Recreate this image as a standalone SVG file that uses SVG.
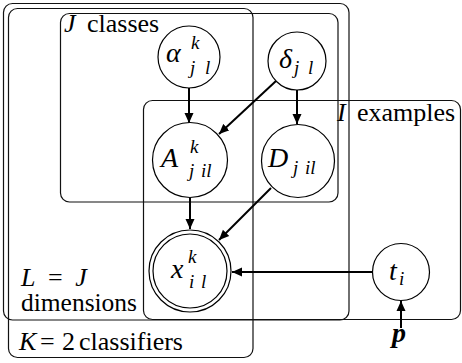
<svg xmlns="http://www.w3.org/2000/svg" width="462" height="363" viewBox="0 0 462 363">
<defs>
<style>
.plate{fill:none;stroke:#111;stroke-width:1.2}
.node{fill:#fff;stroke:#000;stroke-width:1.2}
.edge{stroke:#000;stroke-width:2;fill:none}
.lbl{font-size:26px}
.big{font-size:28px;font-style:italic}
.sub{font-size:19px;font-style:italic}
.it{font-style:italic}
</style>
<marker id="ah" viewBox="0 0 10 10" refX="10" refY="5" markerWidth="10" markerHeight="10" markerUnits="userSpaceOnUse" orient="auto">
<path d="M0,0.5 L10,5 L0,9.5 Z" fill="#000"/>
</marker>
</defs>
<rect width="462" height="363" fill="#fff"/>
<g id="plates">
<g id="plate-L"><rect class="plate" x="3.5" y="3.5" width="345.5" height="316.5" rx="9"/>
<text class="lbl" font-family="Liberation Serif" x="21" y="286" word-spacing="6"><tspan class="it">L</tspan> = <tspan class="it">J</tspan></text>
<text class="lbl" font-family="Liberation Serif" x="21" y="311" textLength="116" lengthAdjust="spacingAndGlyphs">dimensions</text></g>
<g id="plate-K"><rect class="plate" x="8.5" y="8.5" width="244.5" height="349" rx="9"/>
<text class="lbl" font-family="Liberation Serif" x="19" y="350"><tspan class="it">K</tspan><tspan x="40">=</tspan><tspan x="62">2</tspan><tspan x="79">classifiers</tspan></text></g>
<g id="plate-J"><rect class="plate" x="60.5" y="13.5" width="277.5" height="188.5" rx="9"/>
<text class="lbl" font-family="Liberation Serif" x="64" y="32"><tspan class="it">J</tspan><tspan x="87">classes</tspan></text></g>
<g id="plate-I"><rect class="plate" x="143.5" y="100.5" width="317" height="219" rx="9"/>
<text class="lbl" font-family="Liberation Serif" x="337" y="121"><tspan class="it">I</tspan><tspan x="357">examples</tspan></text></g>
</g>
<g id="connectors">
<path class="edge" marker-end="url(#ah)" d="M189,88 L189,123"/>
<path class="edge" marker-end="url(#ah)" d="M297,90 L297,124"/>
<path class="edge" marker-end="url(#ah)" d="M276,81 L219,134"/>
<path class="edge" marker-end="url(#ah)" d="M271,188 L219,240"/>
<path class="edge" marker-end="url(#ah)" d="M190,198 L190,229"/>
<path class="edge" marker-end="url(#ah)" d="M372,272 L232,272"/>
<path class="edge" marker-end="url(#ah)" d="M401,328 L401,301"/>
</g>
<g id="alpha"><circle class="node" cx="189" cy="57" r="31"/>
<text class="big" font-family="Liberation Serif" x="166" y="62">α</text>
<text class="sub" font-family="Liberation Serif" x="191" y="49">k</text>
<text class="sub" font-family="Liberation Serif" x="190" y="74">j<tspan x="205">l</tspan></text></g>
<g id="delta"><circle class="node" cx="297" cy="61" r="29"/>
<text class="big" font-family="Liberation Serif" x="279" y="68">δ</text>
<text class="sub" font-family="Liberation Serif" x="294" y="74">j<tspan x="308">l</tspan></text></g>
<g id="A"><circle class="node" cx="190" cy="160" r="37.5"/>
<text class="big" font-family="Liberation Serif" x="161" y="167">A</text>
<text class="sub" font-family="Liberation Serif" x="190" y="153">k</text>
<text class="sub" font-family="Liberation Serif" x="189" y="177">j<tspan x="201">il</tspan></text></g>
<g id="D"><circle class="node" cx="298" cy="161" r="36.5"/>
<text class="big" font-family="Liberation Serif" x="268" y="167">D</text>
<text class="sub" font-family="Liberation Serif" x="293" y="174">j<tspan x="305">il</tspan></text></g>
<g id="x"><circle class="node" cx="190" cy="271" r="41"/><circle class="node" cx="190" cy="271" r="37"/>
<text class="big" font-family="Liberation Serif" x="171" y="278">x</text>
<text class="sub" font-family="Liberation Serif" x="188" y="263">k</text>
<text class="sub" font-family="Liberation Serif" x="189" y="288">i<tspan x="201">l</tspan></text></g>
<g id="t"><circle class="node" cx="401" cy="272" r="28.5"/>
<text class="big" font-family="Liberation Serif" x="389" y="280">t</text>
<text class="sub" font-family="Liberation Serif" x="399" y="285">i</text></g>
<g id="p"><text class="big" font-family="Liberation Serif" font-weight="bold" x="392" y="342">p</text></g>
</svg>
